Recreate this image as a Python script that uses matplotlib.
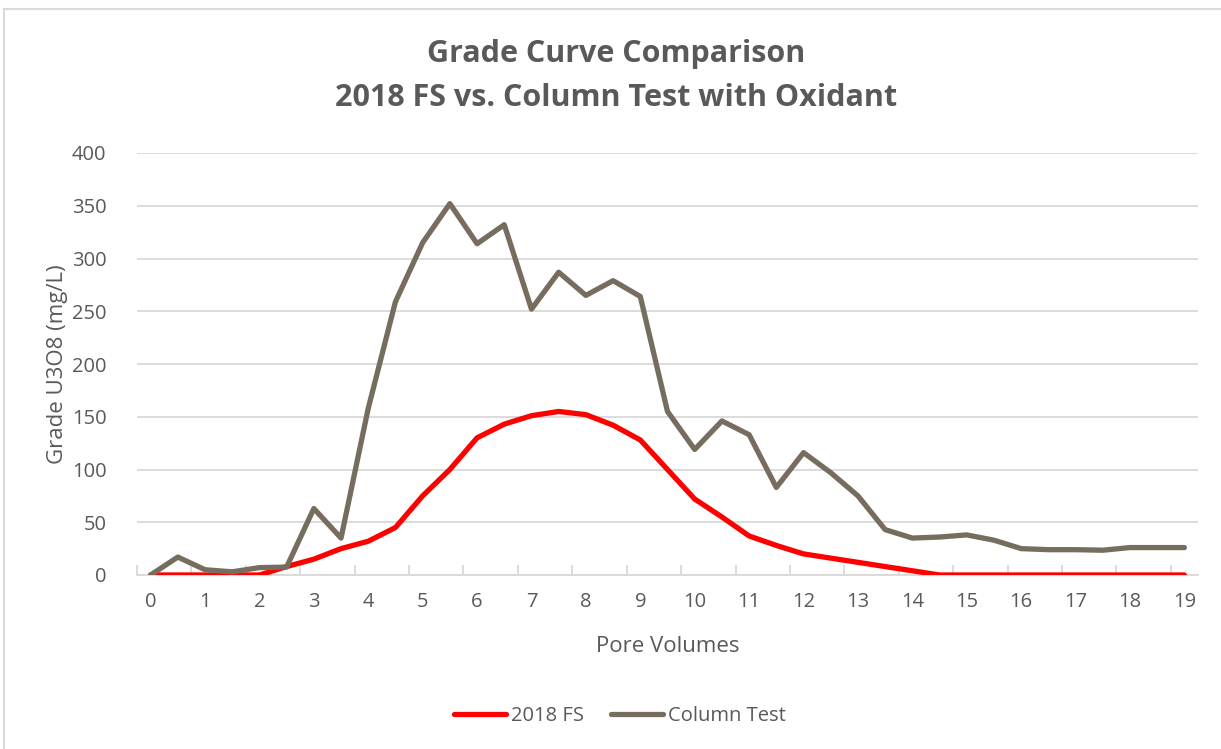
import numpy as np
import matplotlib
matplotlib.use("Agg")
import matplotlib.pyplot as plt
from matplotlib.lines import Line2D

# ---- data ----
pore_volumes = [0, 0.5, 1, 1.5, 2, 2.5, 3, 3.5, 4, 4.5, 5, 5.5, 6, 6.5, 7, 7.5,
                8, 8.5, 9, 9.5, 10, 10.5, 11, 11.5, 12, 12.5, 13, 13.5, 14, 14.5,
                15, 15.5, 16, 16.5, 17, 17.5, 18, 18.5, 19]
fs_2018 = [0, 0, 0, 0, 0, 8, 15, 25, 32, 45, 75, 100, 130, 143, 151, 155,
           152, 142, 128, 100, 72, 55, 37, 28, 20, 16, 12, 8, 4, 0,
           0, 0, 0, 0, 0, 0, 0, 0, 0]
column_test = [0, 17, 5, 3, 7, 7.5, 63, 35, 158, 259, 315, 352, 314, 332, 252, 287,
               265, 279, 264, 155, 119, 146, 133, 83, 116, 97, 75, 43, 35, 36,
               38, 33, 25, 24, 24, 23.5, 26, 26, 26]
x_tick_labels = [str(i) for i in range(20)]
y_ticks = [0, 50, 100, 150, 200, 250, 300, 350, 400]

title = "Grade Curve Comparison\n2018 FS vs. Column Test with Oxidant"
xlabel = "Pore Volumes"
ylabel = "Grade U3O8 (mg/L)"
series_names = ["2018 FS", "Column Test"]

# ---- style ----
FONT = "Open Sans"
TXT = "#595959"
GRID = "#D9D9D9"
RED = "#FF0000"
BROWN = "#766D5F"

plt.rcParams["font.family"] = [FONT, "DejaVu Sans"]

W, H = 1221, 749
fig = plt.figure(figsize=(W / 100, H / 100), dpi=100)
fig.patch.set_facecolor("white")

ax = fig.add_axes([137 / W, 1 - 575 / H, (1198 - 137) / W, (575 - 153) / H])

ax.plot(pore_volumes, fs_2018, color=RED, lw=3.8, solid_capstyle="round",
        solid_joinstyle="round", label=series_names[0], zorder=3)
ax.plot(pore_volumes, column_test, color=BROWN, lw=3.8, solid_capstyle="round",
        solid_joinstyle="round", label=series_names[1], zorder=3)

ax.set_xlim(-0.25, 19.25)
ax.set_ylim(0, 400)
ax.set_yticks(y_ticks)
ax.set_xticks(range(20))
ax.set_xticklabels(x_tick_labels)
ax.set_xticks(np.arange(-0.25, 19.0, 1.0), minor=True)

for s in ["top", "right", "left"]:
    ax.spines[s].set_visible(False)
ax.spines["bottom"].set_color(GRID)
ax.spines["bottom"].set_linewidth(1.3)

ax.yaxis.grid(True, color=GRID, lw=1.3)
ax.set_axisbelow(True)

ax.tick_params(axis="y", length=0, pad=22, labelsize=14.5, labelcolor=TXT)
ax.tick_params(axis="x", which="major", length=0, pad=12, labelsize=14.5, labelcolor=TXT)
ax.tick_params(axis="x", which="minor", direction="in", length=7, width=1.3, color=GRID)

ax.set_xlabel(xlabel, fontsize=16, color=TXT)
ax.set_ylabel(ylabel, fontsize=16, color=TXT)
ax.xaxis.set_label_coords(0.5, (575 - 636) / (575 - 153), transform=ax.transAxes)
ax.yaxis.set_label_coords((68 - 137) / (1198 - 137), 0.5, transform=ax.transAxes)

fig.text(616 / W, 1 - 76 / H, title, ha="center", va="center", fontsize=22,
         fontweight="bold", color=TXT, linespacing=1.65)

handles = [Line2D([], [], color=RED, lw=3.8, solid_capstyle="round"),
           Line2D([], [], color=BROWN, lw=3.8, solid_capstyle="round")]
leg = fig.legend(handles, series_names, loc="center", ncol=2,
                 bbox_to_anchor=(620 / W, 1 - 716 / H), frameon=False,
                 fontsize=14.5, handlelength=2.6, handletextpad=0.25,
                 columnspacing=1.3)
for t in leg.get_texts():
    t.set_color(TXT)

# chart-area border (top & left visible)
fig.add_artist(Line2D([4 / W, 1], [1 - 8.5 / H, 1 - 8.5 / H], color=GRID, lw=1.5,
                      transform=fig.transFigure))
fig.add_artist(Line2D([4 / W, 4 / W], [0, 1 - 8.5 / H], color=GRID, lw=1.5,
                      transform=fig.transFigure))

fig.savefig("out.png", dpi=100, facecolor="white")
